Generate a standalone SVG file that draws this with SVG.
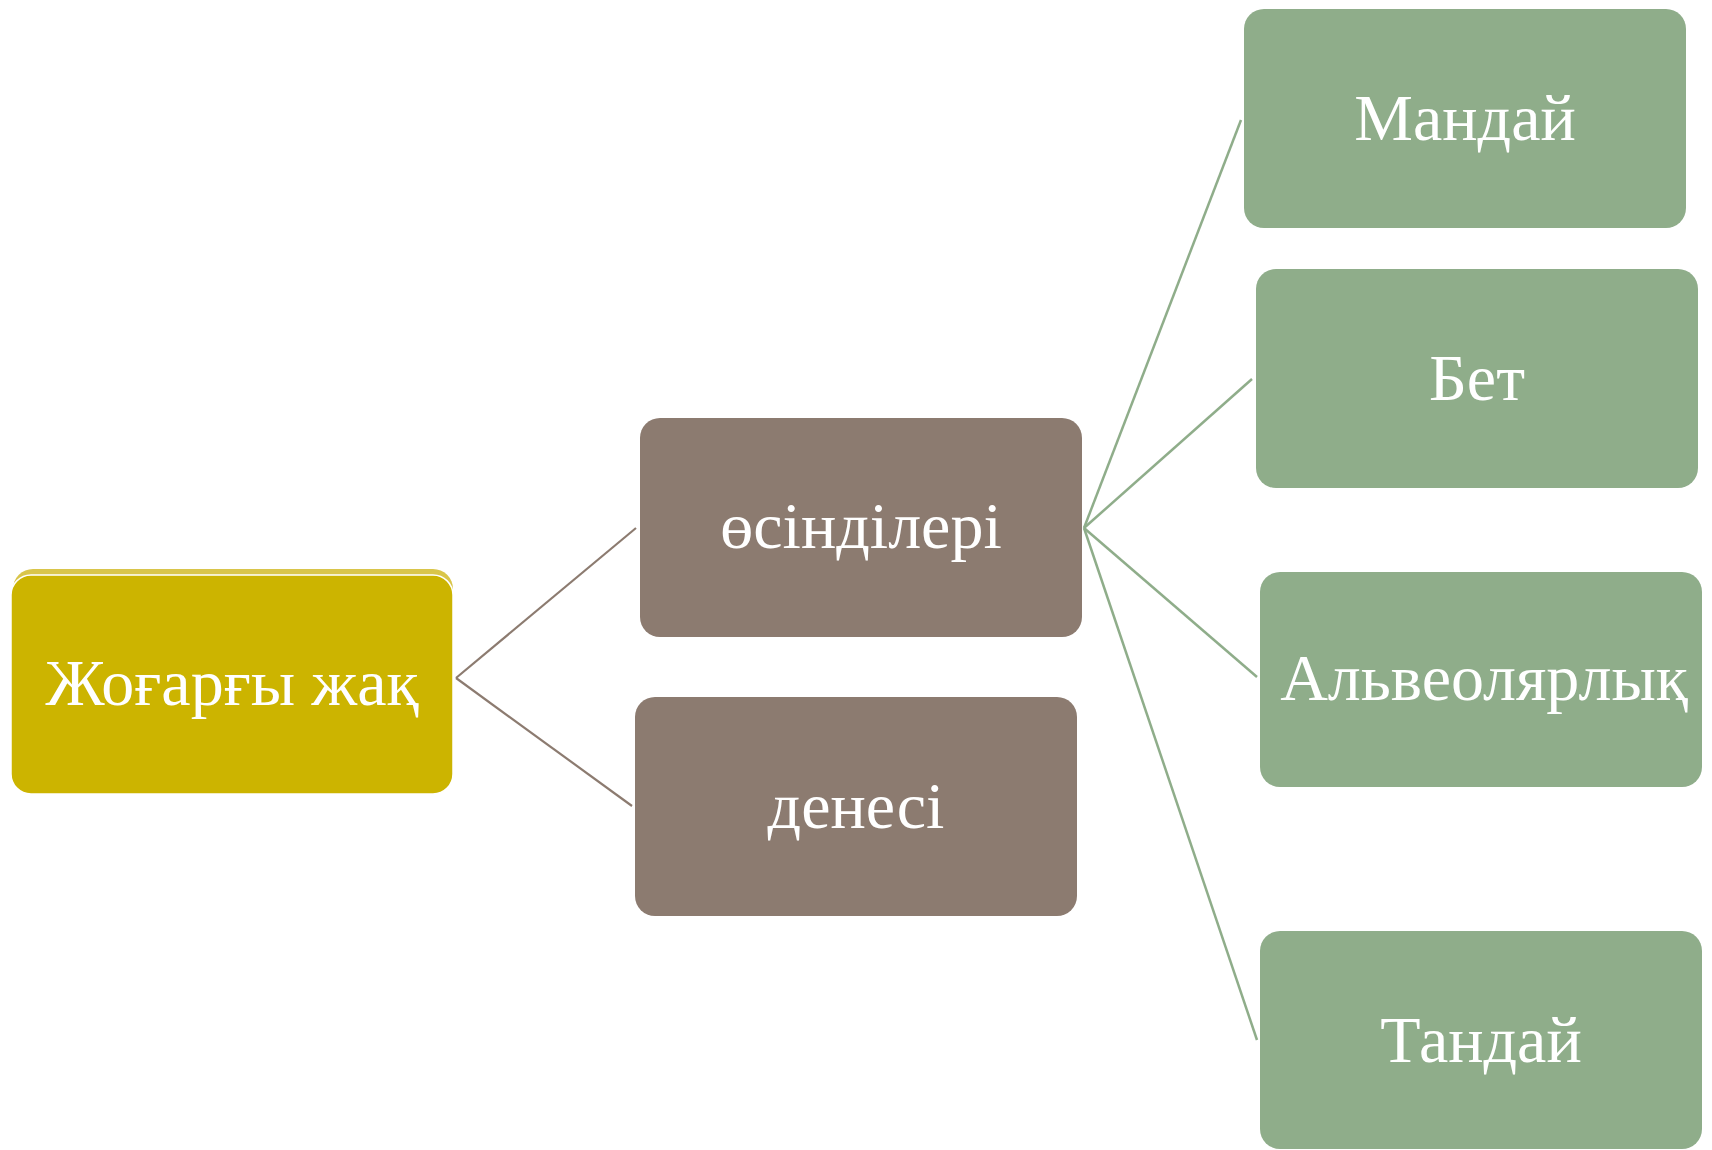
<svg xmlns="http://www.w3.org/2000/svg" width="1712" height="1150" viewBox="0 0 1712 1150">
<style>
.lbl{font-family:"Liberation Serif","Times New Roman",serif;font-size:66px;fill:#ffffff;text-anchor:middle}
.brown{fill:#8c7b70}
.green{fill:#8fad8a}
.cb{stroke:#8c7b70;stroke-width:2.2;fill:none}
.cg{stroke:#8fad8a;stroke-width:2.5;fill:none}
</style>
<rect width="1712" height="1150" fill="#ffffff"/>
<g id="connectors">
<path class="cb" d="M456 678 L636 528"/>
<path class="cb" d="M456 678 L632 806"/>
<path class="cg" d="M1084 528 L1241 120"/>
<path class="cg" d="M1084 528 L1252 379"/>
<path class="cg" d="M1084 528 L1257 677"/>
<path class="cg" d="M1084 528 L1257 1040"/>
</g>
<g id="node-root">
<rect x="13" y="569" width="440" height="220" rx="20" fill="#d9c54a"/>
<rect x="11" y="575" width="442" height="219" rx="20" fill="#ccb400" stroke="#ffffff" stroke-width="1.5"/>
<text class="lbl" x="232" y="705">Жоғарғы жақ</text>
</g>
<g id="node-osindileri">
<rect class="brown" x="640" y="418" width="442" height="219" rx="20"/>
<text class="lbl" x="861" y="548">өсінділері</text>
</g>
<g id="node-denesi">
<rect class="brown" x="635" y="697" width="442" height="219" rx="20"/>
<text class="lbl" x="856" y="828">денесі</text>
</g>
<g id="node-mandai">
<rect class="green" x="1244" y="9" width="442" height="219" rx="20"/>
<text class="lbl" x="1465" y="140">Мандай</text>
</g>
<g id="node-bet">
<rect class="green" x="1256" y="269" width="442" height="219" rx="20"/>
<text class="lbl" x="1477" y="400">Бет</text>
</g>
<g id="node-alveolyar">
<rect class="green" x="1260" y="572" width="442" height="215" rx="20"/>
<text class="lbl" x="1484" y="700">Альвеолярлық</text>
</g>
<g id="node-tandai">
<rect class="green" x="1260" y="931" width="442" height="218" rx="20"/>
<text class="lbl" x="1481" y="1062">Тандай</text>
</g>
</svg>
